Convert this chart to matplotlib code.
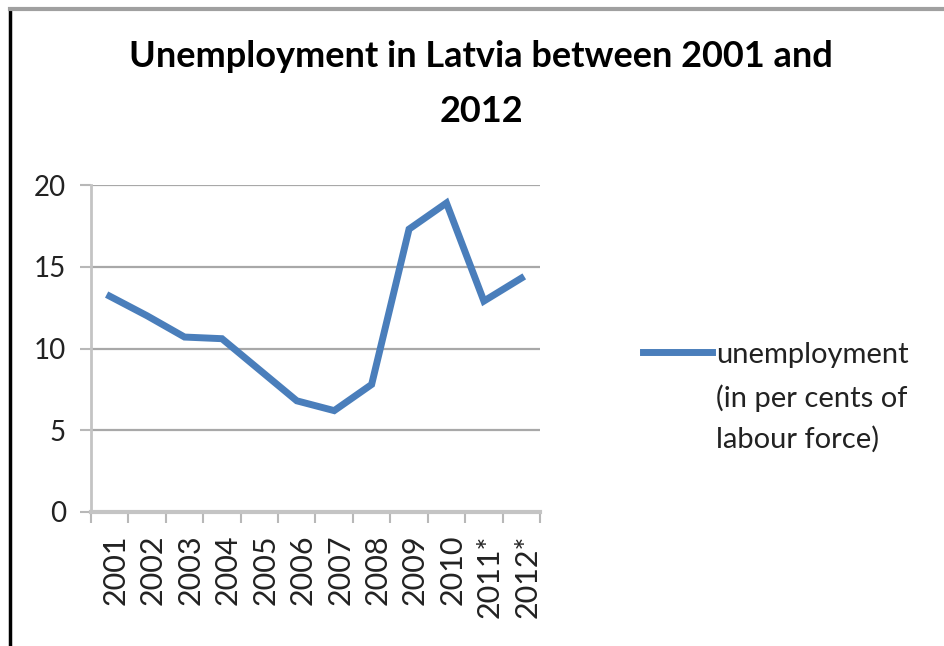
import matplotlib.pyplot as plt
from matplotlib.lines import Line2D
from matplotlib.transforms import ScaledTranslation

years = ["2001", "2002", "2003", "2004", "2005", "2006",
         "2007", "2008", "2009", "2010", "2011*", "2012*"]
unemployment = [13.2, 12.0, 10.7, 10.6, 8.7, 6.8, 6.2, 7.8, 17.3, 18.9, 12.9, 14.3]
yticks = [0, 5, 10, 15, 20]
legend_lines = ["unemployment", "(in per cents of", "labour force)"]

plt.rcParams['font.family'] = ['Lato', 'DejaVu Sans']

W, H = 945, 646
fig = plt.figure(figsize=(W / 100, H / 100), dpi=100)
ax = fig.add_axes([91 / W, 1 - 512 / H, 449 / W, 327 / H])

x = [i + 0.5 for i in range(len(years))]
ax.plot(x, unemployment, color="#4a7ebb", lw=5, solid_joinstyle="miter")

ax.set_xlim(0, len(years))
ax.set_ylim(0, 20)
ax.set_yticks(yticks)
ax.set_xticks(range(len(years) + 1))
ax.set_xticks(x, minor=True)
ax.set_xticklabels([])
ax.set_xticklabels(years, minor=True, rotation=90, fontsize=22, color="#222222")
ax.tick_params(axis="x", which="major", length=8, width=1.5, color="#b8b8b8")
ax.tick_params(axis="x", which="minor", length=0, pad=16)
ax.tick_params(axis="y", length=8, width=1.5, color="#b8b8b8", labelsize=20,
               pad=10, labelcolor="#222222")

# nudge the rotated year labels a little to the right of the category centres
shift = ScaledTranslation(6 / 100, 0, fig.dpi_scale_trans)
for lab in ax.xaxis.get_minorticklabels():
    lab.set_transform(lab.get_transform() + shift)

ax.grid(axis="y", color="#a8a8a8", lw=1.6)
ax.set_axisbelow(True)
for s in ["top", "right"]:
    ax.spines[s].set_visible(False)
ax.spines["left"].set_color("#c4c4c4")
ax.spines["left"].set_linewidth(2)
ax.spines["bottom"].set_color("#c4c4c4")
ax.spines["bottom"].set_linewidth(3)

# two-line title, placed by baseline
fig.text(481 / W, 1 - 67 / H, "Unemployment in Latvia between 2001 and",
         ha="center", va="baseline", fontsize=26, fontweight="bold")
fig.text(481 / W, 1 - 122 / H, "2012",
         ha="center", va="baseline", fontsize=26, fontweight="bold")

# legend drawn by hand to the right of the plot
fig.add_artist(Line2D([643 / W, 712 / W], [1 - 352 / H, 1 - 352 / H],
                      color="#4a7ebb", lw=5))
for line, base in zip(legend_lines, [363, 407, 448]):
    fig.text(716 / W, 1 - base / H, line, ha="left", va="baseline",
             fontsize=21, color="#222222")

# outer frame lines
fig.add_artist(Line2D([10 / W, 10 / W], [0, 1 - 9 / H], color="black", lw=2.5))
fig.add_artist(Line2D([10 / W, 1.0], [1 - 9 / H, 1 - 9 / H], color="#a0a0a0", lw=3))

fig.savefig("out.png", dpi=100)
